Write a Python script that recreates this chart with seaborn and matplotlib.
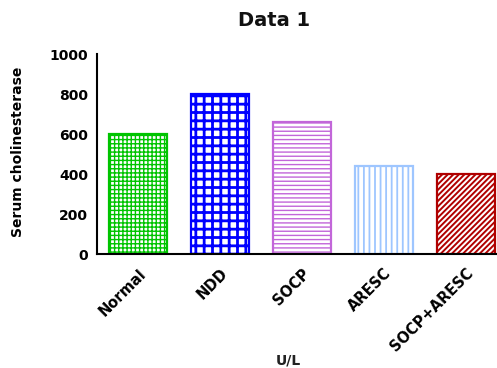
import matplotlib
matplotlib.use("Agg")
import matplotlib.pyplot as plt
import seaborn as sns
import pandas as pd

groups = ["Normal", "NDD", "SOCP", "ARESC", "SOCP+ARESC"]
cholinesterase = [600, 800, 660, 440, 400]
y_ticks = [0, 200, 400, 600, 800, 1000]

edge_colors = ["#00C400", "#0000FF", "#C266D9", "#9EC6FF", "#B00000"]
hatches = ["++++", "++", "----", "|||", "//////"]
hatch_widths = [1.0, 2.0, 1.0, 1.3, 1.4]

sns.set_style("white")
plt.rcParams["font.family"] = ["DejaVu Sans"]
plt.rcParams["font.weight"] = "bold"
plt.rcParams["text.color"] = "black"
plt.rcParams["xtick.color"] = "black"
plt.rcParams["ytick.color"] = "black"

df = pd.DataFrame({"group": groups, "value": cholinesterase})

fig = plt.figure(figsize=(4.97, 3.68), dpi=100)
ax = fig.add_axes([97 / 497, 114 / 368, 410 / 497, 200 / 368])

sns.barplot(data=df, x="group", y="value", hue="group", order=groups,
            hue_order=groups, palette=edge_colors, width=0.71,
            legend=False, ax=ax)

for container, ec, h, hw in zip(ax.containers, edge_colors, hatches, hatch_widths):
    for bar in container:
        bar.set_facecolor("white")
        bar.set_edgecolor(ec)
        bar.set_linewidth(1.6)
        bar.set_hatch(h)
        if hasattr(bar, "set_hatch_linewidth"):
            bar.set_hatch_linewidth(hw)

ax.set_xlim(-0.5, 4.5)
ax.set_ylim(0, 1000)
ax.set_yticks(y_ticks)
ax.set_yticklabels([str(t) for t in y_ticks], fontsize=10, fontweight="bold")
ax.set_xticks(range(len(groups)))
ax.set_xticklabels(groups, rotation=45, ha="right", va="top",
                   rotation_mode="anchor", fontsize=10.5, fontweight="bold")

for side in ("top", "right"):
    ax.spines[side].set_visible(False)
for side in ("left", "bottom"):
    ax.spines[side].set_linewidth(1.5)
    ax.spines[side].set_color("black")

ax.tick_params(axis="both", direction="out", length=4.5, width=1.5,
               color="black", pad=2)
ax.tick_params(axis="x", pad=4)

ax.set_xlabel("")
ax.set_ylabel("")
fig.text(18 / 497, 1 - 152 / 368, "Serum cholinesterase", rotation=90,
         ha="center", va="center", fontsize=10, fontweight="bold")
fig.text(288 / 497, 1 - 361 / 368, "U/L", ha="center", va="center",
         fontsize=10, fontweight="bold", color="#222222")
fig.text(274 / 497, 1 - 20 / 368, "Data 1", ha="center", va="center",
         fontsize=14, fontweight="bold", color="#111111")

fig.savefig("out.png", dpi=100)
